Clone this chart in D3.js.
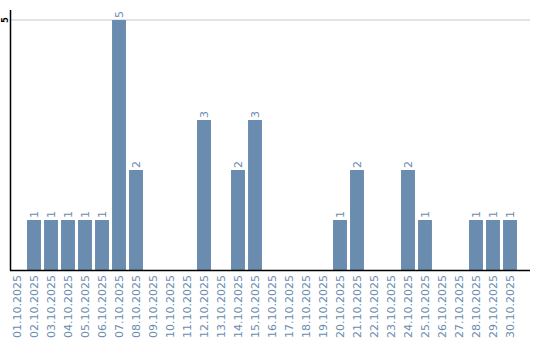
<!DOCTYPE html>
<html><head><meta charset="utf-8">
<script src="https://cdn.jsdelivr.net/npm/d3@7"></script>
<style>body{margin:0;background:#fff}</style>
</head><body>
<svg id="c" width="540" height="340"></svg>
<script>
const categories = ["01.10.2025","02.10.2025","03.10.2025","04.10.2025","05.10.2025","06.10.2025","07.10.2025","08.10.2025","09.10.2025","10.10.2025","11.10.2025","12.10.2025","13.10.2025","14.10.2025","15.10.2025","16.10.2025","17.10.2025","18.10.2025","19.10.2025","20.10.2025","21.10.2025","22.10.2025","23.10.2025","24.10.2025","25.10.2025","26.10.2025","27.10.2025","28.10.2025","29.10.2025","30.10.2025"];
const values = [0,1,1,1,1,1,5,2,0,0,0,3,0,2,3,0,0,0,0,1,2,0,0,2,1,0,0,1,1,1];
const yTicks = [5];

const svg = d3.select("#c");
const color = "#6a8caf";
const x = d3.scaleBand().domain(categories).range([8.5, 518.5]).paddingInner(0.18).paddingOuter(0.09);
const y = d3.scaleLinear().domain([0,5]).range([270,20]);

// grid
svg.append("g").selectAll("line").data(yTicks).join("line")
  .attr("x1",11).attr("x2",530).attr("y1",d=>y(d)).attr("y2",d=>y(d))
  .attr("stroke","#c8c8c8").attr("stroke-width",1);

// bars
svg.append("g").selectAll("rect").data(categories.map((c,i)=>({c,v:values[i]})).filter(d=>d.v>0)).join("rect")
  .attr("x",d=>x(d.c)).attr("width",x.bandwidth())
  .attr("y",d=>y(d.v)).attr("height",d=>y(0)-y(d.v)).attr("fill",color);

// value labels
svg.append("g").selectAll("text").data(categories.map((c,i)=>({c,v:values[i]})).filter(d=>d.v>0)).join("text")
  .attr("transform",d=>`translate(${x(d.c)+x.bandwidth()/2+4},${y(d.v)-2}) rotate(-90)`)
  .attr("text-anchor","start").attr("fill",color)
  .style("font-family","DejaVu Sans").style("font-size","11px")
  .text(d=>d.v);

// axes
svg.append("line").attr("x1",10.5).attr("x2",10.5).attr("y1",10).attr("y2",270.5).attr("stroke","#000").attr("stroke-width",1.5);
svg.append("line").attr("x1",10).attr("x2",530).attr("y1",270.5).attr("y2",270.5).attr("stroke","#000").attr("stroke-width",1.5);

// y tick labels
svg.append("g").selectAll("text").data(yTicks).join("text")
  .attr("transform",d=>`translate(8,${y(d)}) rotate(-90)`)
  .attr("text-anchor","middle").attr("fill","#000")
  .style("font-family","DejaVu Sans").style("font-size","8px").style("font-weight","bold")
  .text(d=>d);

// x labels
svg.append("g").selectAll("text").data(categories).join("text")
  .attr("transform",d=>`translate(${x(d)+x.bandwidth()/2+4},275) rotate(-90)`)
  .attr("text-anchor","end").attr("fill",color)
  .style("font-family","DejaVu Sans").style("font-size","11px")
  .text(d=>d);
</script>
</body></html>
